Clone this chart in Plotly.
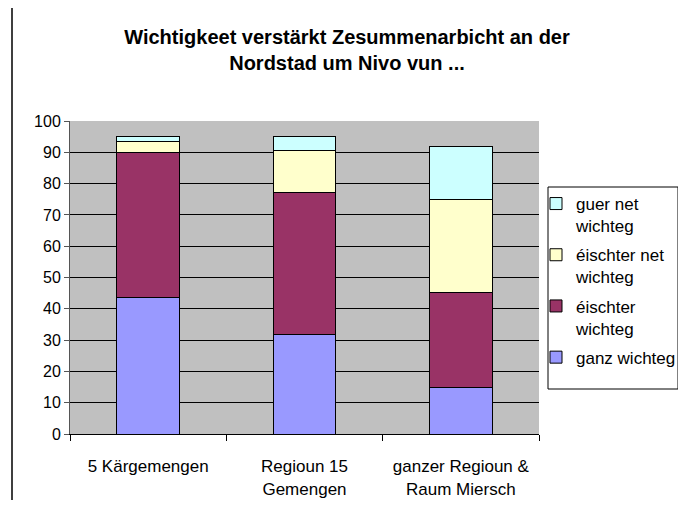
import plotly.graph_objects as go

categories = ["5 Kärgemengen", "Regioun 15<br>Gemengen", "ganzer Regioun &<br>Raum Miersch"]
ganz_wichteg = [43.7, 31.8, 14.9]
eischter_wichteg = [46.2, 45.4, 30.3]
eischter_net_wichteg = [3.7, 13.5, 29.7]
guer_net_wichteg = [1.4, 4.3, 17.1]
series_names = ["ganz wichteg", "éischter<br>wichteg", "éischter net<br>wichteg", "guer net<br>wichteg"]
series_values = [ganz_wichteg, eischter_wichteg, eischter_net_wichteg, guer_net_wichteg]
series_colors = ["#9999FF", "#993366", "#FFFFCC", "#CCFFFF"]
y_ticks = list(range(0, 101, 10))

# page body has an 8px default margin; lay out in window pixels
OFF = 8
W, H = 686 - OFF, 509 - 2 * OFF - 1
ml, mt = 70 - OFF, 121 - OFF
pw, ph = 469, 313
mr, mb = W - ml - pw, H - mt - ph

def px(x):
    return (x - OFF - ml) / pw

def py(y):
    return (H - mb - (y - OFF)) / ph

fig = go.Figure()
n = len(series_names)
for i, (name, vals, col) in enumerate(zip(series_names, series_values, series_colors)):
    fig.add_trace(go.Bar(
        x=categories, y=vals, name=name,
        marker=dict(color=col, line=dict(color="black", width=1)),
        legendgroup=str(i), legendrank=1000 + (n - i),
    ))

font_family = "Liberation Sans, Arial, sans-serif"
fig.update_layout(
    width=W, height=H, autosize=False,
    margin=dict(l=ml, r=mr, t=mt, b=mb, autoexpand=False),
    barmode="stack", bargap=0.6,
    plot_bgcolor="#C0C0C0", paper_bgcolor="white",
    font=dict(family=font_family, size=16, color="black"),
    title=dict(
        text="<b>Wichtigkeet verstärkt Zesummenarbicht an der<br>Nordstad um Nivo vun ...</b>",
        x=(347 - OFF) / W, xanchor="center", xref="container",
        y=1 - (44 - OFF) / H, yanchor="top", yref="container",
        font=dict(size=20, family=font_family, color="black"),
    ),
    xaxis=dict(
        showgrid=False, tickson="boundaries", ticks="outside", ticklen=6,
        tickcolor="black", showline=True, linecolor="black", linewidth=1,
        tickfont=dict(size=17), ticklabelstandoff=17,
    ),
    yaxis=dict(
        range=[0, 100], tickvals=y_ticks, ticks="outside", ticklen=5,
        tickcolor="#555555", showline=True, linecolor="#555555", linewidth=1,
        showgrid=True, gridcolor="black", gridwidth=1, zeroline=False,
        tickfont=dict(size=16),
    ),
    legend=dict(
        x=px(536), y=py(186), xanchor="left", yanchor="top",
        xref="paper", yref="paper",
        traceorder="grouped", tracegroupgap=4, valign="top",
        bgcolor="rgba(0,0,0,0)", borderwidth=0,
        font=dict(size=17, family=font_family),
        itemwidth=30,
    ),
    shapes=[
        dict(type="rect", xref="paper", yref="paper",
             x0=px(548), x1=px(678), y0=py(389), y1=py(187),
             line=dict(color="black", width=1), fillcolor="rgba(0,0,0,0)", layer="above"),
        dict(type="rect", xref="paper", yref="paper",
             x0=px(12), x1=px(682), y0=py(530), y1=py(5),
             line=dict(color="black", width=1.5), fillcolor="rgba(0,0,0,0)", layer="below"),
    ],
)

fig.write_html("out.html", config={"displayModeBar": False, "responsive": False})
